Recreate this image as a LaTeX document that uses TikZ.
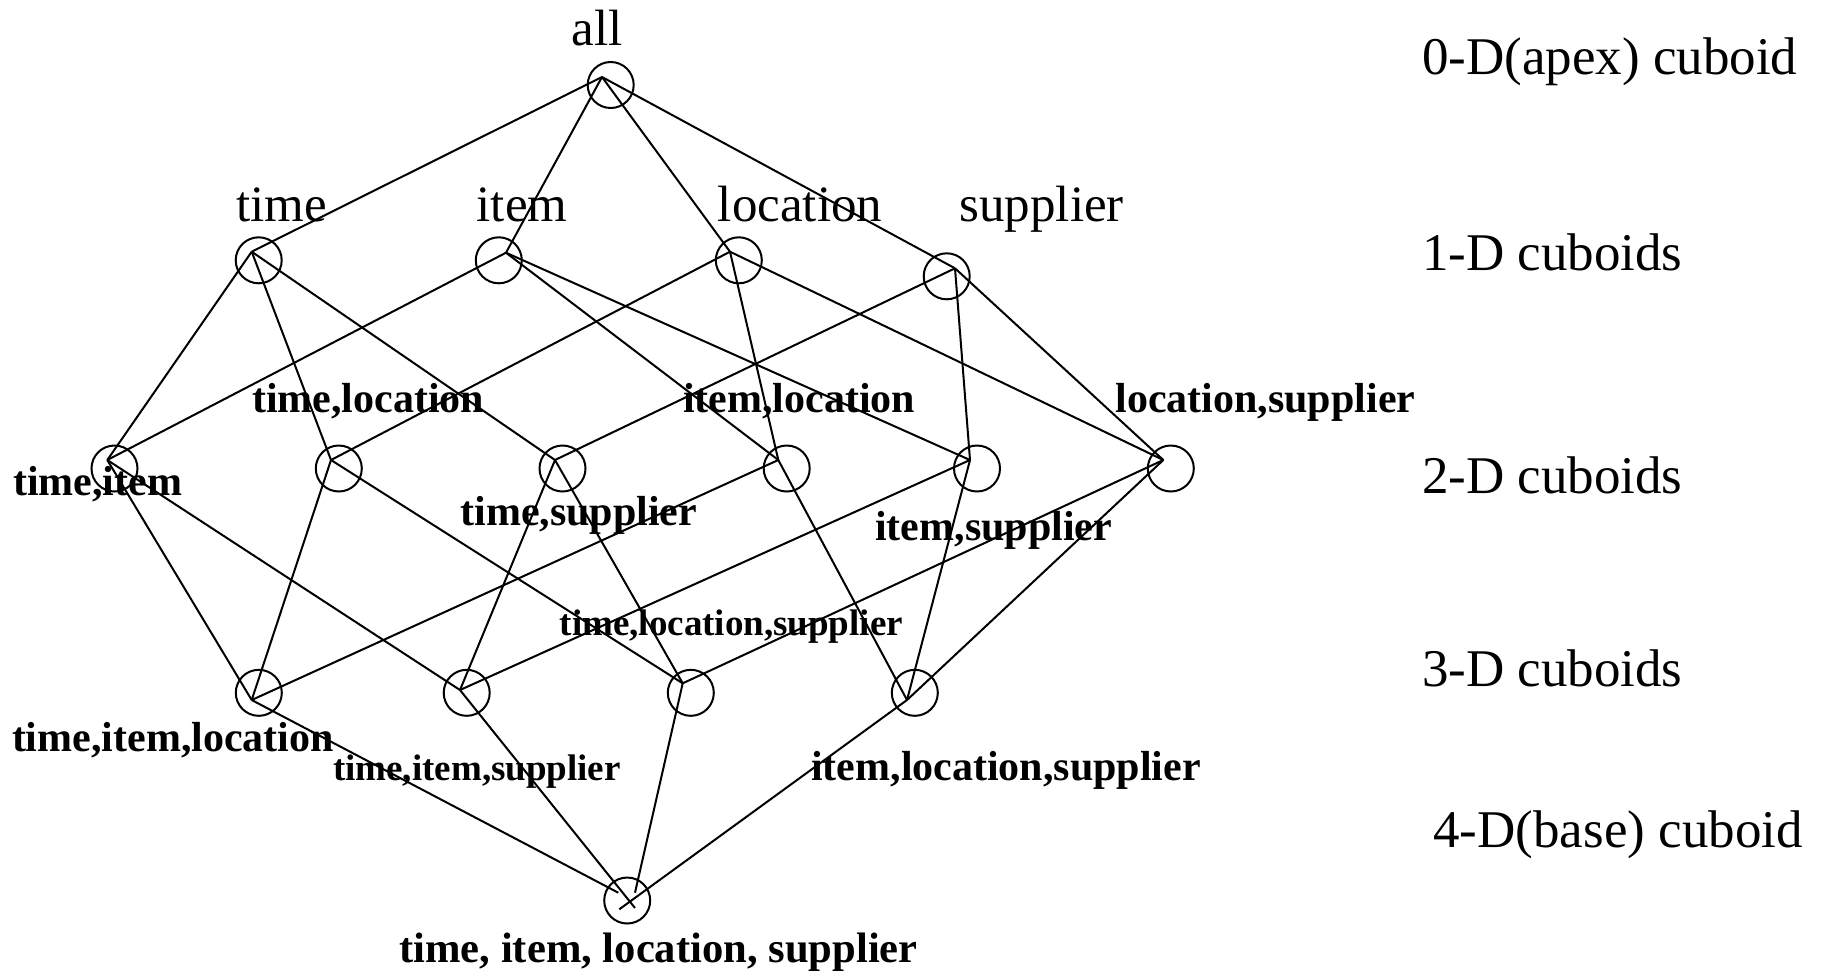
\documentclass[tikz,border=0pt]{standalone}
\usepackage{fontspec}
\setmainfont{Liberation Serif}
\begin{document}
\begin{tikzpicture}[x=0.5pt,y=-0.5pt,
  cub/.style={circle,draw,line width=1pt,minimum size=23pt,inner sep=0pt},
  edge/.style={line width=1pt},
  lvl/.style={font=\fontsize{26.5}{31}\selectfont,inner sep=0pt,anchor=base west},
  dim/.style={font=\fontsize{25.5}{30}\selectfont,inner sep=0pt,anchor=base},
  blab/.style={font=\fontsize{21}{25}\selectfont\bfseries,inner sep=0pt,anchor=base west},
  slab/.style={font=\fontsize{18.5}{22}\selectfont\bfseries,inner sep=0pt,anchor=base west}]
\useasboundingbox (0,0) rectangle (1824,970);
% cuboid circles
\node[cub] (all) at (610.7,85) {};
\node[cub] (t) at (258.7,260.3) {};
\node[cub] (i) at (498.8,260.3) {};
\node[cub] (l) at (738.8,260.3) {};
\node[cub] (s) at (946.7,276.3) {};
\node[cub] (ti) at (114.5,468.5) {};
\node[cub] (tl) at (338.8,468.5) {};
\node[cub] (ts) at (562.5,468.5) {};
\node[cub] (il) at (786.7,468.5) {};
\node[cub] (is) at (977,468.5) {};
\node[cub] (ls) at (1170.8,468.5) {};
\node[cub] (til) at (258.8,692.8) {};
\node[cub] (tis) at (466.7,692.8) {};
\node[cub] (tls) at (690.8,692.8) {};
\node[cub] (ils) at (914.8,692.8) {};
\node[cub] (base) at (627.2,900.5) {};
% meeting points of the lines inside the circles
\coordinate (hall) at (602,77);
\coordinate (ht) at (251.7,251.7);
\coordinate (hi) at (506,252.7);
\coordinate (hl) at (730,251.7);
\coordinate (hs) at (955,268.3);
\coordinate (hti) at (107.3,460);
\coordinate (htl) at (331,460);
\coordinate (hts) at (555,460);
\coordinate (hil) at (778.3,460);
\coordinate (his) at (970,460);
\coordinate (hls) at (1163.3,460);
\coordinate (htil) at (251.7,700);
\coordinate (htis) at (460,690);
\coordinate (htls) at (682.7,683.3);
\coordinate (hils) at (907,700);
\coordinate (bA) at (618.3,892.7);
\coordinate (bB) at (635,908);
\coordinate (bC) at (635,892.7);
\coordinate (bD) at (619.3,909.3);
% edges
\draw[edge] (hall) -- (ht);
\draw[edge] (hall) -- (hi);
\draw[edge] (hall) -- (hl);
\draw[edge] (hall) -- (hs);
\draw[edge] (ht) -- (hti);
\draw[edge] (ht) -- (htl);
\draw[edge] (ht) -- (hts);
\draw[edge] (hi) -- (hti);
\draw[edge] (hi) -- (hil);
\draw[edge] (hi) -- (his);
\draw[edge] (hl) -- (htl);
\draw[edge] (hl) -- (hil);
\draw[edge] (hl) -- (hls);
\draw[edge] (hs) -- (hts);
\draw[edge] (hs) -- (his);
\draw[edge] (hs) -- (hls);
\draw[edge] (hti) -- (htil);
\draw[edge] (hti) -- (htis);
\draw[edge] (htl) -- (htil);
\draw[edge] (htl) -- (htls);
\draw[edge] (hts) -- (htis);
\draw[edge] (hts) -- (htls);
\draw[edge] (hil) -- (htil);
\draw[edge] (hil) -- (hils);
\draw[edge] (his) -- (htis);
\draw[edge] (his) -- (hils);
\draw[edge] (hls) -- (htls);
\draw[edge] (hls) -- (hils);
\draw[edge] (htil) -- (bA);
\draw[edge] (htis) -- (bB);
\draw[edge] (htls) -- (bC);
\draw[edge] (hils) -- (bD);
% labels
\node[dim] (lall) at (597,45) {all};
\node[dim] (lt) at (281.7,221.7) {time};
\node[dim] (li) at (522,221.7) {item};
\node[dim] (ll) at (800,221.7) {location};
\node[dim] (lsu) at (1041.7,221.7) {supplier};
\node[blab] (lti) at (12.7,495) {time,item};
\node[blab] (ltl) at (251.7,412.3) {time,location};
\node[blab] (lil) at (682.7,412.3) {item,location};
\node[blab] (lls) at (1115,412.3) {location,supplier};
\node[blab] (lts) at (460,525) {time,supplier};
\node[blab] (lis) at (874.8,540) {item,supplier};
\node[slab] (ltls) at (559.3,635) {time,location,supplier};
\node[blab] (ltil) at (11.6,751) {time,item,location};
\node[slab] (ltis) at (332.7,780) {time,item,supplier};
\node[blab] (lils) at (810.8,780) {item,location,supplier};
\node[blab,font=\fontsize{21.3}{25}\selectfont\bfseries] (lbase) at (399,962) {time, item, location, supplier};
% level labels
\node[lvl] (d0) at (1421.6,74) {0-D(apex) cuboid};
\node[lvl] (d1) at (1421.6,270) {1-D cuboids};
\node[lvl] (d2) at (1421.6,493) {2-D cuboids};
\node[lvl] (d3) at (1421.6,686) {3-D cuboids};
\node[lvl] (d4) at (1433,847) {4-D(base) cuboid};
\end{tikzpicture}
\end{document}
